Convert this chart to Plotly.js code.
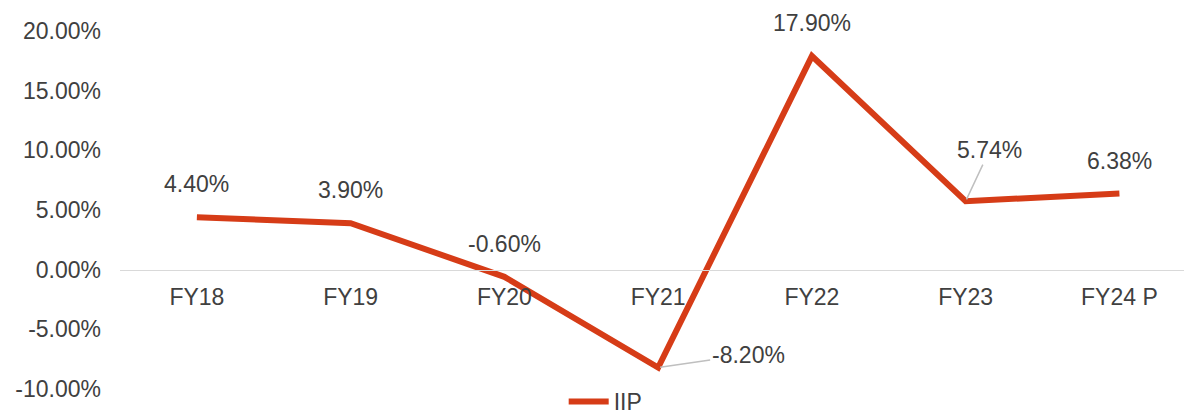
<!DOCTYPE html>
<html>
<head>
<meta charset="utf-8">
<script src="https://cdn.plot.ly/plotly-3.0.1.min.js"></script>
<style>html,body{margin:0;padding:0;background:#fff;}#chart{width:1184px;height:420px;}</style>
</head>
<body>
<div id="chart"></div>
<script>
const categories = ["FY18", "FY19", "FY20", "FY21", "FY22", "FY23", "FY24 P"];
const iip = [4.40, 3.90, -0.60, -8.20, 17.90, 5.74, 6.38];
const seriesName = "IIP";
const yTickValues = [-10, -5, 0, 5, 10, 15, 20];
const yTickLabels = yTickValues.map(v => v.toFixed(2) + "%");

const lineColor = "#d63c17";
const textColor = "#404040";
const fontFamily = "Liberation Sans, Arial, sans-serif";

const annotations = categories.map((c, i) => {
  const base = {
    x: c, y: iip[i], xref: "x", yref: "y",
    text: iip[i].toFixed(2) + "%",
    font: {family: fontFamily, size: 23, color: textColor}
  };
  if (c === "FY21") {
    return Object.assign(base, {showarrow: true, arrowhead: 0, arrowwidth: 1.5, arrowcolor: "#bfbfbf", ax: 90, ay: -13, standoff: 2});
  }
  if (c === "FY23") {
    return Object.assign(base, {showarrow: true, arrowhead: 0, arrowwidth: 1.5, arrowcolor: "#bfbfbf", ax: 24, ay: -51, standoff: 2});
  }
  return Object.assign(base, {showarrow: false, yshift: 33});
});

const data = [{
  x: categories, y: iip, name: seriesName, type: "scatter", mode: "lines",
  line: {color: lineColor, width: 6},
  hoverinfo: "skip"
}];

const layout = {
  width: 1184, height: 420,
  margin: {l: 120, r: 0, t: 31, b: 31, autoexpand: false},
  paper_bgcolor: "#fff", plot_bgcolor: "#fff",
  font: {family: fontFamily, size: 23, color: textColor},
  showlegend: true,
  legend: {orientation: "h", x: 0.417, xanchor: "left", y: -0.035, yanchor: "middle",
           font: {family: fontFamily, size: 23, color: textColor}, itemwidth: 40},
  xaxis: {
    type: "category", range: [-0.5, 6.42], anchor: "free", position: 1/3,
    showline: true, linecolor: "#d9d9d9", linewidth: 1.5,
    showgrid: false, zeroline: false, ticks: "", ticklabelstandoff: 6,
    tickfont: {family: fontFamily, size: 23, color: textColor}
  },
  yaxis: {
    range: [-10, 20], tickmode: "array", tickvals: yTickValues, ticktext: yTickLabels,
    showgrid: false, zeroline: false, showline: false, ticks: "",
    ticklabelstandoff: 18,
    tickfont: {family: fontFamily, size: 23, color: textColor}
  },
  annotations: annotations
};

Plotly.newPlot("chart", data, layout, {staticPlot: true, displayModeBar: false});
</script>
</body>
</html>
